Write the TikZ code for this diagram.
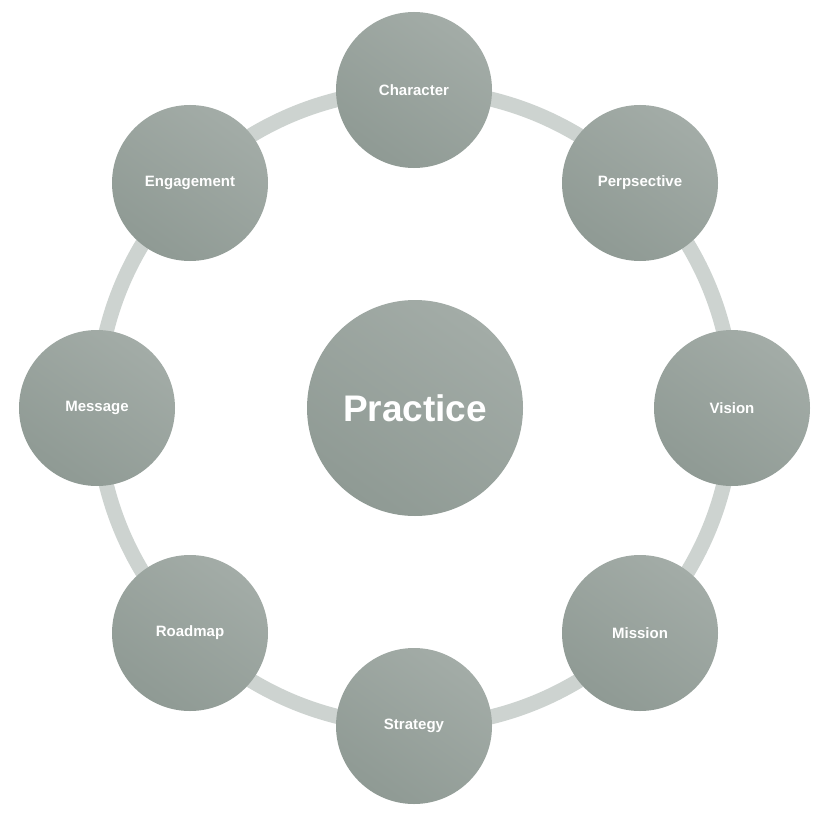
\documentclass[tikz,border=0pt]{standalone}
\usepackage{fontspec}
\setmainfont{Liberation Sans}
\begin{document}
\begin{tikzpicture}[x=1pt,y=-1pt,
  outer/.style={circle,minimum size=156pt,inner sep=0pt,shading=axis,top color=gray1,bottom color=gray2,shading angle=-35,draw=none,text=white,font=\bfseries\fontsize{15}{18}\selectfont},
  ctr/.style={outer,minimum size=216pt,font=\bfseries\fontsize{37}{44}\selectfont}]
\definecolor{gray1}{HTML}{A3ACA7}
\definecolor{gray2}{HTML}{8F9A94}
\definecolor{ringc}{HTML}{CDD3D0}
\useasboundingbox (0,0) rectangle (827,824);
\fill[white] (0,0) rectangle (827,824);
\coordinate (c) at (415,408);
\draw[ringc,line width=15pt] (c) circle (318);
\node[ctr] (p) at (c) {Practice};
\node[outer] (n1) at (414,90) {Character};
\node[outer] (n2) at (640,183) {Perpsective};
\node[outer] (n3) at (732,408) {Vision};
\node[outer] (n4) at (640,633) {Mission};
\node[outer] (n5) at (414,726) {Strategy};
\node[outer] (n6) at (190,633) {Roadmap};
\node[outer] (n7) at (97,408) {Message};
\node[outer] (n8) at (190,183) {Engagement};
\end{tikzpicture}
\end{document}
